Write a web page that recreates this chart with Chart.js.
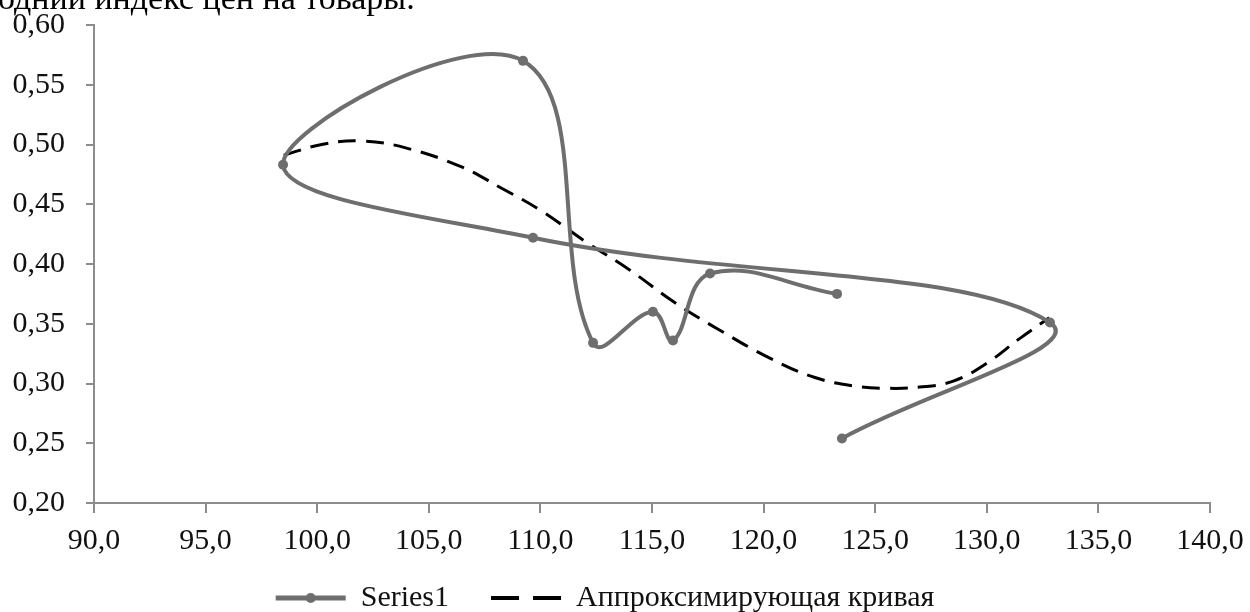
<!DOCTYPE html>
<html>
<head>
<meta charset="utf-8">
<script src="https://cdn.jsdelivr.net/npm/chart.js@4"></script>
<style>
  html, body { margin: 0; padding: 0; background: #fff; overflow: hidden; }
  #wrap { position: relative; width: 1250px; height: 612px; }
  #caption {
    position: absolute; left: -2px; top: -19px;
    font: 34px "Liberation Serif", serif; line-height: 34px; color: #000;
    white-space: nowrap;
  }
</style>
</head>
<body>
<div id="wrap">
  <canvas id="chart" width="1250" height="612"></canvas>
  <div id="caption">одний индекс цен на товары.</div>
</div>
<script>
// Series1 points, in drawing order
const seriesX = [123.29, 117.60, 115.94, 115.04, 112.36, 109.22, 98.47, 109.67, 132.83, 123.51];
const seriesY = [0.375, 0.392, 0.336, 0.360, 0.334, 0.570, 0.483, 0.422, 0.351, 0.254];

// approximating curve
const fitX = [98.5, 100.2, 102.0, 104.0, 106.5, 108.2, 110.0, 112.0, 114.0, 116.0, 118.0, 120.3, 122.3, 124.0, 125.5, 127.0, 128.5, 130.0, 131.5, 132.8];
const fitY = [0.491, 0.500, 0.503, 0.497, 0.481, 0.464, 0.445, 0.419, 0.395, 0.368, 0.345, 0.321, 0.305, 0.298, 0.296, 0.297, 0.302, 0.317, 0.338, 0.355];

const seriesNames = ['Series1', 'Аппроксимирующая кривая'];

const grey = '#6e6e6e';
const axisGrey = '#8c8c8c';
const font = { family: '"Liberation Serif", serif', size: 30 };

const toPoints = (xs, ys) => xs.map((x, i) => ({ x: x, y: ys[i] }));

// small dot in the middle of the Series1 legend line,
// and let the x tick labels run past the (short) axis box
const extras = {
  id: 'extras',
  afterLayout(chart) {
    chart.scales.x.bottom = chart.height;
  },
  afterDraw(chart) {
    const box = chart.legend.legendHitBoxes[0];
    if (!box) return;
    const ctx = chart.ctx;
    ctx.save();
    ctx.fillStyle = grey;
    ctx.beginPath();
    ctx.arc(box.left + 35, box.top + box.height / 2, 5, 0, Math.PI * 2);
    ctx.fill();
    ctx.restore();
  }
};

new Chart(document.getElementById('chart'), {
  type: 'scatter',
  data: {
    datasets: [
      {
        label: seriesNames[0],
        data: toPoints(seriesX, seriesY),
        showLine: true,
        tension: 0.4,
        borderColor: grey,
        backgroundColor: grey,
        borderWidth: 4,
        pointRadius: 5,
        pointBorderWidth: 0,
        pointBackgroundColor: grey
      },
      {
        label: seriesNames[1],
        data: toPoints(fitX, fitY),
        showLine: true,
        tension: 0.4,
        borderColor: '#000',
        backgroundColor: '#000',
        borderWidth: 3,
        borderDash: [18, 10],
        pointRadius: 0
      }
    ]
  },
  options: {
    responsive: false,
    animation: false,
    events: [],
    layout: { padding: { top: 25, right: 40, left: 0, bottom: -11 } },
    plugins: {
      tooltip: { enabled: false },
      legend: {
        position: 'bottom',
        labels: {
          font: font,
          color: '#111',
          padding: 42,
          usePointStyle: true,
          pointStyleWidth: 70,
          generateLabels(chart) {
            return chart.data.datasets.map((ds, i) => ({
              text: ds.label,
              datasetIndex: i,
              pointStyle: 'line',
              strokeStyle: ds.borderColor,
              fillStyle: ds.borderColor,
              lineWidth: i === 0 ? 5 : 4,
              lineDash: i === 0 ? [] : [28, 14],
              fontColor: '#111'
            }));
          }
        }
      }
    },
    scales: {
      x: {
        type: 'linear',
        min: 90,
        max: 140,
        afterFit(scale) {
          scale.height = 38;
          scale.paddingLeft = 0;
          scale.paddingRight = 0;
        },
        ticks: {
          stepSize: 5,
          font: font,
          color: '#111',
          padding: 10,
          maxRotation: 0,
          callback: v => v.toFixed(1).replace('.', ',')
        },
        grid: { drawOnChartArea: false, color: axisGrey, lineWidth: 2, tickLength: 10 },
        border: { color: axisGrey, width: 2 }
      },
      y: {
        type: 'linear',
        min: 0.2,
        max: 0.6,
        afterFit(scale) {
          scale.width = 94;
          scale.paddingTop = 0;
          scale.paddingBottom = 0;
        },
        ticks: {
          stepSize: 0.05,
          font: font,
          color: '#111',
          padding: 21,
          callback: v => v.toFixed(2).replace('.', ',')
        },
        grid: { drawOnChartArea: false, color: axisGrey, lineWidth: 2, tickLength: 8 },
        border: { color: axisGrey, width: 2 }
      }
    }
  },
  plugins: [extras]
});
</script>
</body>
</html>
